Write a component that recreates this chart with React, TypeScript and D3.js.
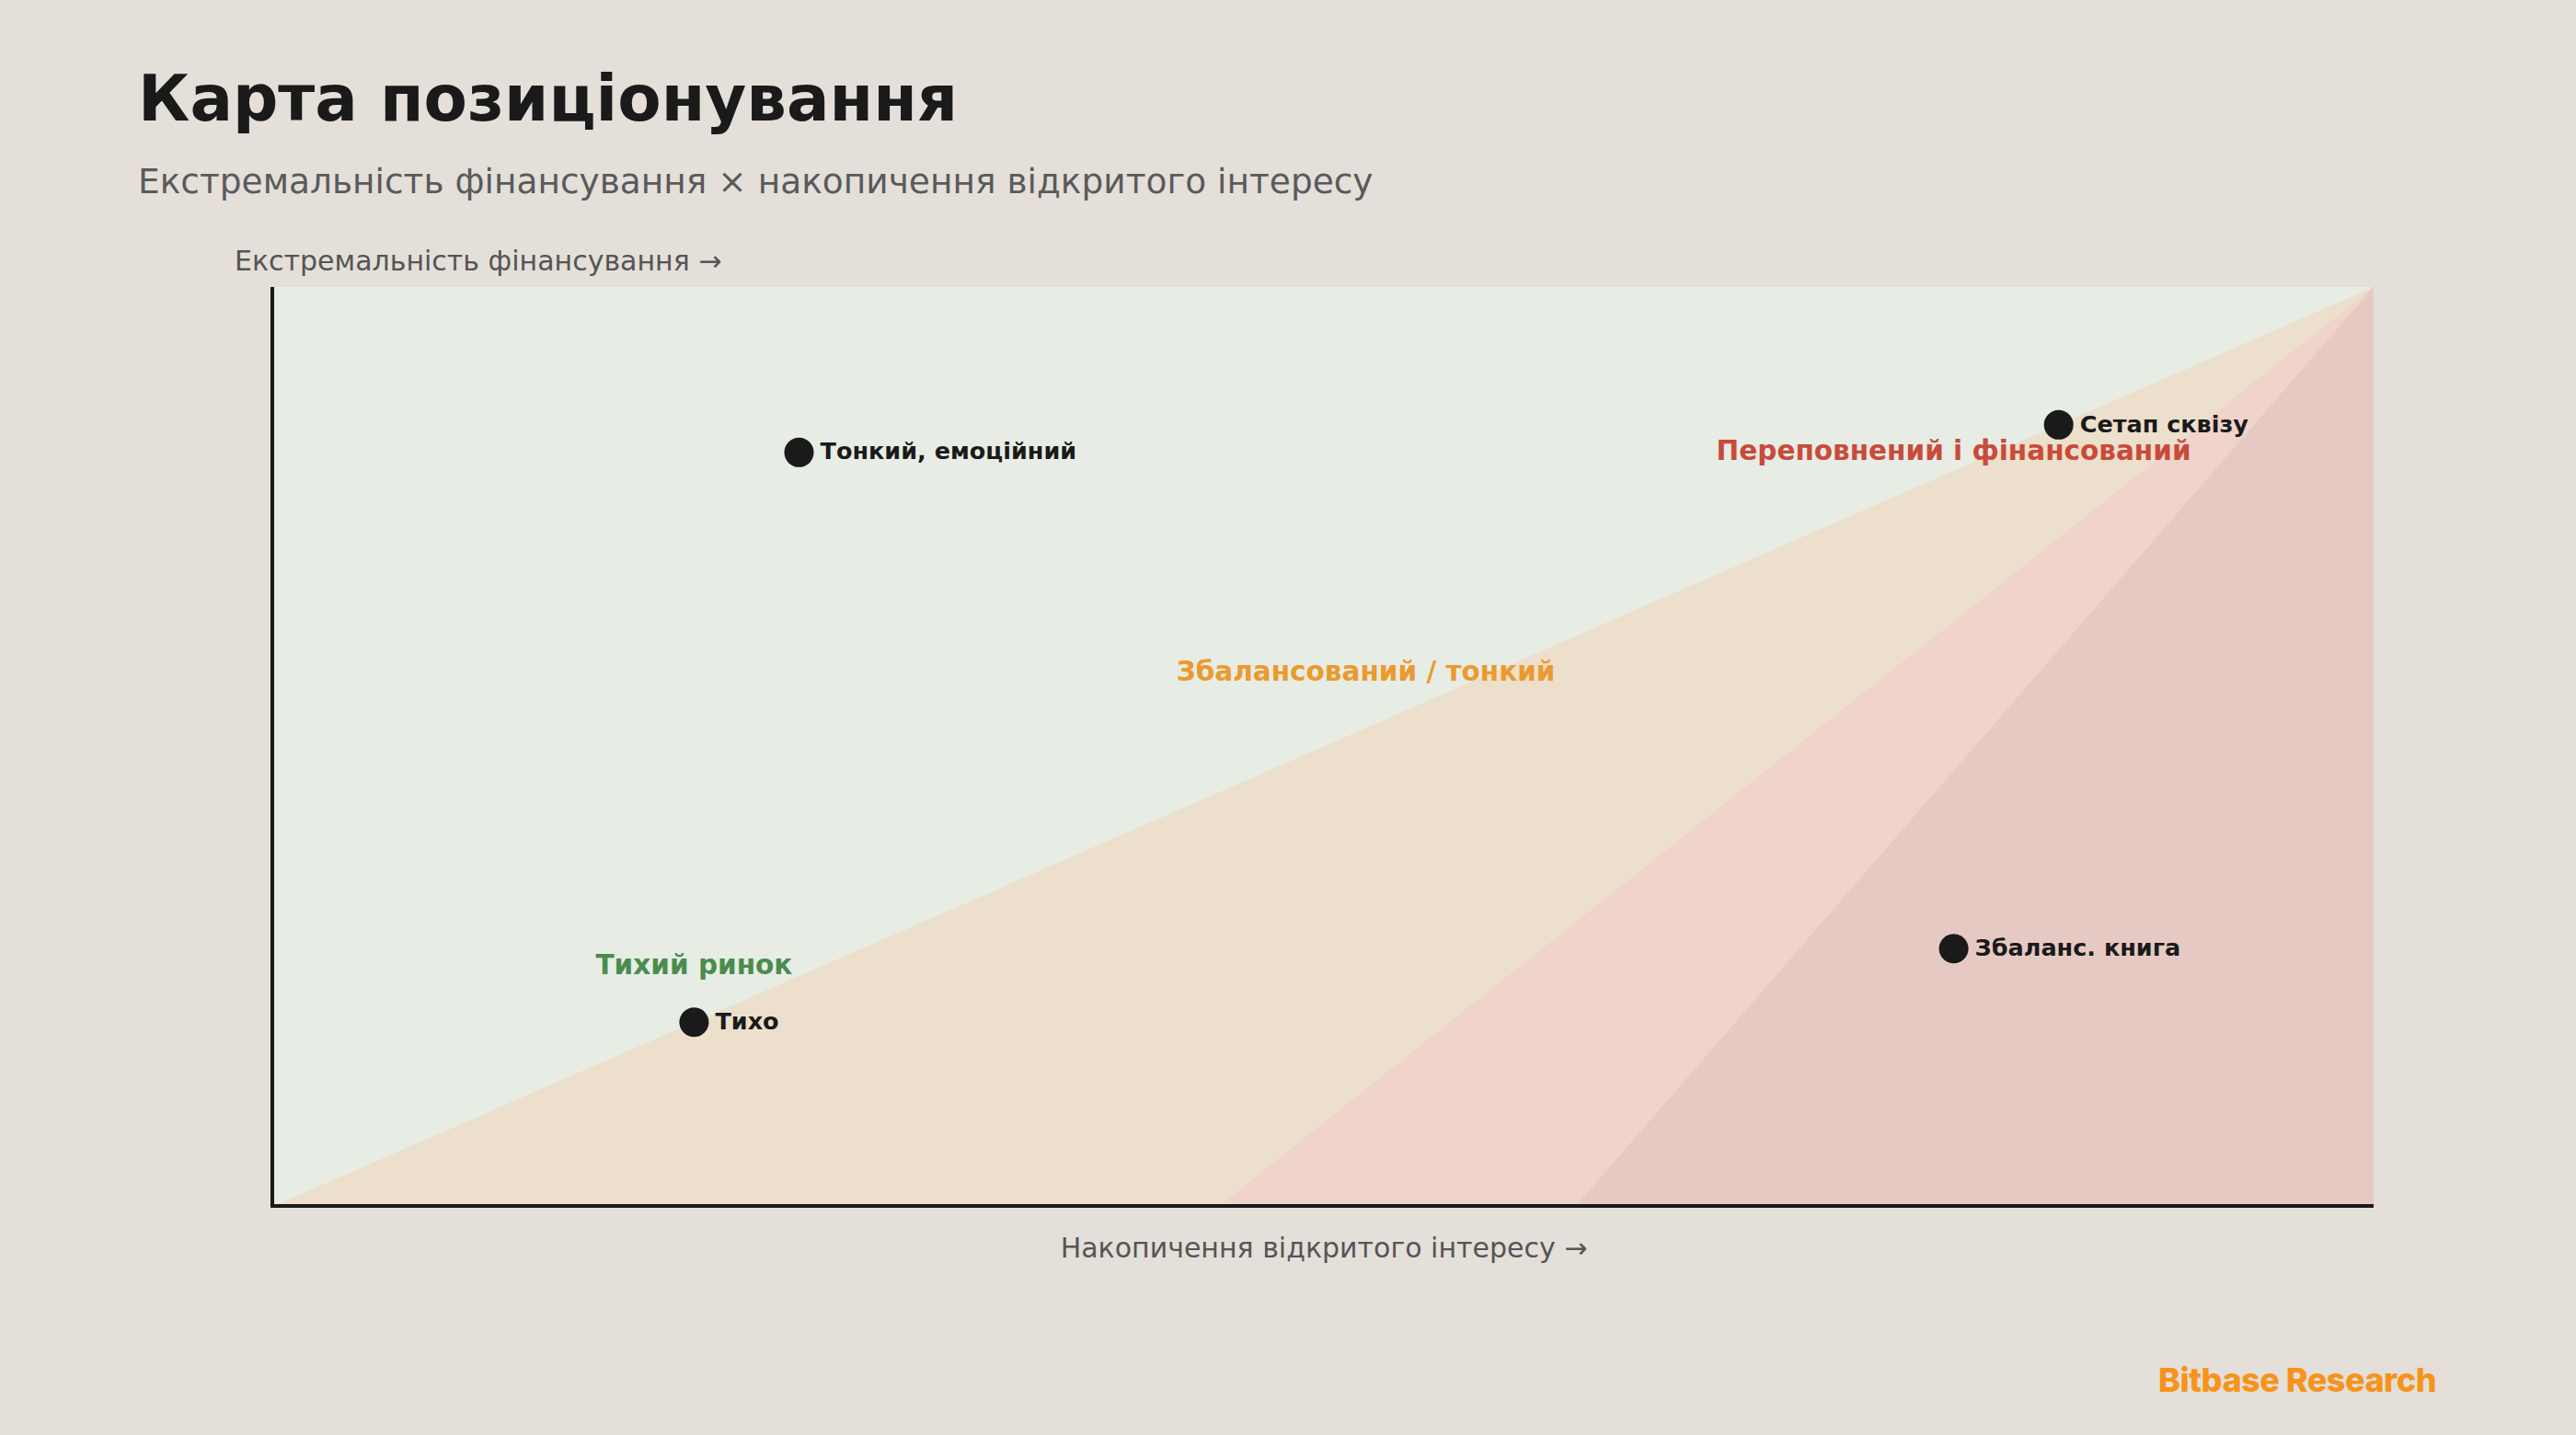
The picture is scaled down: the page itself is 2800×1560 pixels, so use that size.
import { useEffect } from 'react';
import * as d3 from 'd3';

// zones: every band runs from its start on the OI axis up to the top-right corner
const bandStarts = [0, 0.45, 0.62];
const bandColors = ['#ecdfcb', '#f0d4cb', '#e7c9c3'];

const zoneLabels = ['Тихий ринок', 'Збалансований / тонкий', 'Переповнений і фінансований'];
const zoneLabelX = [0.2, 0.52, 0.8];
const zoneLabelY = [0.26, 0.58, 0.82];
const zoneLabelColors = ['#4a8c4e', '#eb9a2e', '#c84b3a'];

const pointNames = ['Тонкий, емоційний', 'Сетап сквізу', 'Збаланс. книга', 'Тихо'];
const pointOI = [0.25, 0.85, 0.8, 0.2];
const pointFunding = [0.82, 0.85, 0.28, 0.2];

const W = 2800;
const H = 1560;
const FONT = '"DejaVu Sans", sans-serif';

export default function App() {
  useEffect(() => {
    document.body.style.margin = '0';
    document.body.style.background = '#e4dfd9';
  }, []);

  const margin = { left: 298, right: 220, top: 312, bottom: 249 };
  const x = d3.scaleLinear().domain([0, 1]).range([margin.left, W - margin.right]);
  const y = d3.scaleLinear().domain([0, 1]).range([H - margin.bottom, margin.top]);

  const line = d3
    .line<[number, number]>()
    .x((d) => x(d[0]))
    .y((d) => y(d[1]));

  const bands = bandStarts.map((s) => {
    const pts: [number, number][] = [
      [s, 0],
      [1, 1],
      [1, 0],
    ];
    return line(pts) + 'Z';
  });

  const [x0, x1] = x.range();
  const [yb, yt] = y.range();

  return (
    <svg width={W} height={H} style={{ display: 'block', background: '#e4dfd9' }} fontFamily={FONT}>
      <text x={150} y={131} fontSize={69} fontWeight="bold" fill="#1a1a1a">
        Карта позиціонування
      </text>
      <text x={150} y={210} fontSize={37.5} fill="#5a5a5a">
        Екстремальність фінансування × накопичення відкритого інтересу
      </text>

      <rect x={x0} y={yt} width={x1 - x0} height={yb - yt} fill="#e7ece4" />
      {bands.map((d, i) => (
        <path key={i} d={d} fill={bandColors[i]} />
      ))}

      <line x1={x0 - 2} x2={x0 - 2} y1={yt} y2={yb + 2} stroke="#1a1a1a" strokeWidth={4} />
      <line x1={x0 - 4} x2={x1} y1={yb} y2={yb} stroke="#1a1a1a" strokeWidth={4} />

      <text x={255} y={294} fontSize={30} fill="#555">
        Екстремальність фінансування →
      </text>
      <text x={(x0 + x1) / 2} y={1367} fontSize={30} fill="#555" textAnchor="middle">
        Накопичення відкритого інтересу →
      </text>

      {zoneLabels.map((t, i) => (
        <text
          key={t}
          x={x(zoneLabelX[i])}
          y={y(zoneLabelY[i])}
          dy="0.27em"
          fontSize={29.5}
          fontWeight="bold"
          fill={zoneLabelColors[i]}
          textAnchor="middle"
        >
          {t}
        </text>
      ))}

      {pointNames.map((t, i) => (
        <g key={t} transform={`translate(${x(pointOI[i])},${y(pointFunding[i])})`}>
          <circle r={16} fill="#1a1a1a" />
          <text x={23} dy="0.3em" fontSize={25.5} fontWeight="bold" fill="#1a1a1a">
            {t}
          </text>
        </g>
      ))}

      <text
        x={2648}
        y={1513}
        fontSize={36}
        fontWeight={800}
        fill="#f7931a"
        textAnchor="end"
        fontFamily='Inter, "Open Sans", sans-serif'
        letterSpacing={-0.5}
      >
        Bitbase Research
      </text>
    </svg>
  );
}
